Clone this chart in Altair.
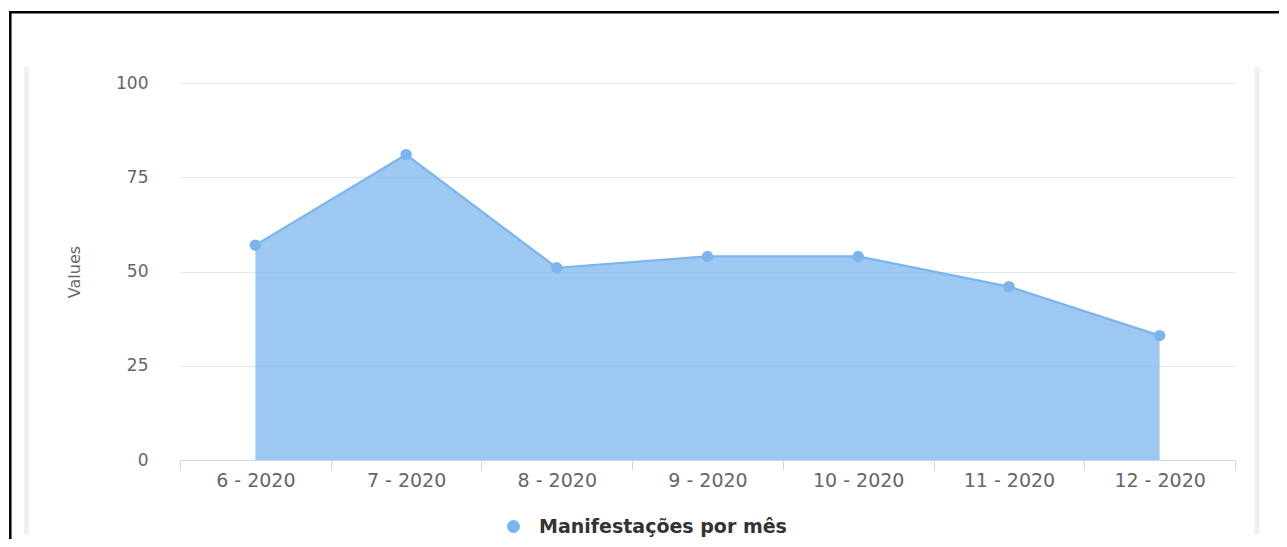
import altair as alt
import pandas as pd

months = ["6 - 2020", "7 - 2020", "8 - 2020", "9 - 2020", "10 - 2020", "11 - 2020", "12 - 2020"]
values = [57, 81, 51, 54, 54, 46, 33]
series_name = "Manifestações por mês"
y_ticks = [0, 25, 50, 75, 100]

df = pd.DataFrame({"month": months, "value": values, "series": [series_name] * len(months)})

W, H = 1055, 377
FONT = "DejaVu Sans"
BLUE = "#7cb5ec"

x_enc = alt.X(
    "month:N",
    sort=months,
    bandPosition=0.5,
    scale=alt.Scale(type="band", paddingInner=0, paddingOuter=0),
    axis=alt.Axis(
        title=None, labelAngle=0, tickBand="extent", grid=False,
        domainColor="#ccd6eb", tickColor="#ccd6eb", tickSize=10,
        labelFont=FONT, labelFontSize=19, labelColor="#666666", labelPadding=1,
    ),
)
y_enc = alt.Y(
    "value:Q",
    scale=alt.Scale(domain=[0, 100]),
    axis=alt.Axis(
        values=y_ticks, title="Values", grid=True, gridColor="#e6e6e6",
        domain=False, ticks=False, labelPadding=32,
        labelFont=FONT, labelFontSize=17, labelColor="#666666",
        titleFont=FONT, titleFontSize=16, titleFontWeight="normal", titleColor="#666666",
        titleX=-106, titleY=H / 2, titleAngle=-90, titleAlign="center", titleBaseline="middle",
    ),
)

base = alt.Chart(df)
area = base.mark_area(color=BLUE, opacity=0.75).encode(x=x_enc, y=y_enc)
line = base.mark_line(color=BLUE, strokeWidth=2.2).encode(x=x_enc, y=y_enc)
pts = base.mark_circle(size=130, opacity=1).encode(
    x=x_enc, y=y_enc,
    color=alt.Color(
        "series:N",
        scale=alt.Scale(range=[BLUE]),
        legend=alt.Legend(
            orient="none", legendX=324, legendY=434, title=None, padding=0,
            symbolType="circle", symbolSize=170, symbolOpacity=1, symbolStrokeWidth=0,
            labelFont=FONT, labelFontSize=19, labelFontWeight="bold", labelColor="#333333",
            labelOffset=16, labelLimit=500,
        ),
    ),
)

one = alt.Data(values=[{}])
frame_top = alt.Chart(one).mark_rule(color="black", strokeWidth=2.5).encode(
    x=alt.value(-171), x2=alt.value(1120), y=alt.value(-70.8))
frame_left = alt.Chart(one).mark_rule(color="black", strokeWidth=2.5).encode(
    x=alt.value(-169.7), y=alt.value(-72), y2=alt.value(470))
bar_left = alt.Chart(one).mark_rule(color="#f0f0f0", strokeWidth=5).encode(
    x=alt.value(-153.5), y=alt.value(-16), y2=alt.value(451))
bar_right = alt.Chart(one).mark_rule(color="#f0f0f0", strokeWidth=5).encode(
    x=alt.value(1077), y=alt.value(-16), y2=alt.value(451))

chart = alt.layer(frame_top, frame_left, bar_left, bar_right, area, line, pts).properties(
    width=W, height=H,
    autosize=alt.AutoSizeParams(type="none"),
    padding={"left": 172, "top": 75, "right": 44, "bottom": 79},
).configure_view(stroke=None)

chart.save("out.html", embed_options={"renderer": "svg", "actions": False})
